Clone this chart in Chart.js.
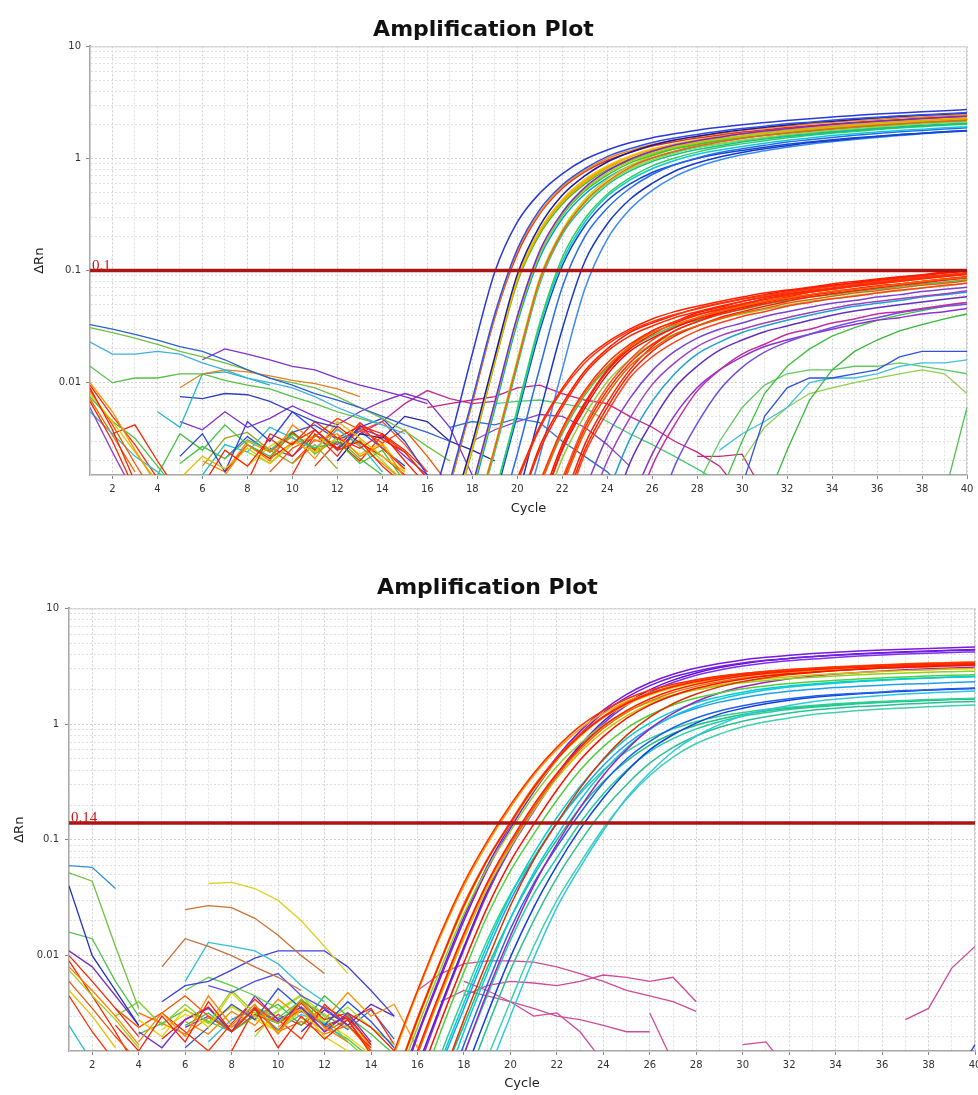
<!DOCTYPE html>
<html><head><meta charset="utf-8">
<script src="https://cdn.jsdelivr.net/npm/chart.js@4.4.1/dist/chart.umd.min.js"></script>
<style>
html,body{margin:0;padding:0;background:#fff;overflow:hidden;width:978px;height:1095px;}
#c1{position:absolute;left:0;top:0;}
#c2{position:absolute;left:0;top:548px;}
</style></head><body>
<canvas id="c1" width="978" height="530"></canvas>
<canvas id="c2" width="990" height="547"></canvas>
<script>
// ---------- shared axis data ----------
const cycles = [1,2,3,4,5,6,7,8,9,10,11,12,13,14,15,16,17,18,19,20,21,22,23,24,25,26,27,28,29,30,31,32,33,34,35,36,37,38,39,40];
const xTickLabels = [2,4,6,8,10,12,14,16,18,20,22,24,26,28,30,32,34,36,38,40];
const yTickLabels = [0.01,0.1,1,10];
const yMin = 0.0015, yMax = 10;
const chartTitle = 'Amplification Plot';
const xTitle = 'Cycle';
const yTitle = 'ΔRn';
const topThreshold = 0.1, topThresholdLabel = '0.1';
const bottomThreshold = 0.14, bottomThresholdLabel = '0.14';

// ---------- TOP chart: early amplifying group ----------
const topEarlyStarts = [16,16,17,17,16,16,17,17,17,18,17,17,18,17,18,18,18,17,18,19,18,19,20];
const topEarlyColors = ['#2a3ad8','#3050e8','#1a1a9a','#7a2ad0','#f08a10','#e8302a','#e8c800','#ff9a00','#a8d018','#f06020','#d8b000','#38c838','#80e040','#50b828','#c8d000','#18c090','#30d060','#00a0e0','#10c8d8','#2a6af0','#1048d0','#1838c8','#3a8af8'];
const topEarlyValues = [
 [0.0006,0.003,0.018,0.097,0.27,0.49,0.73,0.98,1.19,1.38,1.53,1.66,1.79,1.9,2.0,2.09,2.18,2.26,2.35,2.42,2.49,2.55,2.61,2.67,2.73],
 [0.0002,0.0013,0.0071,0.041,0.155,0.35,0.58,0.81,1.04,1.22,1.39,1.52,1.64,1.75,1.85,1.94,2.04,2.11,2.19,2.27,2.33,2.4,2.45,2.51,2.57],
 [0.0006,0.0029,0.017,0.092,0.25,0.47,0.7,0.93,1.13,1.31,1.46,1.58,1.7,1.8,1.9,1.99,2.08,2.15,2.23,2.3,2.37,2.43,2.48,2.54],
 [0.0002,0.0012,0.0067,0.039,0.15,0.33,0.55,0.77,0.98,1.16,1.32,1.44,1.55,1.66,1.76,1.84,1.93,2.01,2.08,2.15,2.21,2.27,2.33,2.38],
 [0.0002,0.0012,0.0068,0.039,0.15,0.33,0.56,0.78,1.0,1.17,1.33,1.46,1.57,1.67,1.78,1.86,1.95,2.03,2.1,2.18,2.23,2.3,2.35,2.41,2.46],
 [0.0002,0.0012,0.0066,0.038,0.14,0.32,0.54,0.76,0.96,1.13,1.29,1.41,1.52,1.62,1.72,1.8,1.89,1.96,2.03,2.11,2.16,2.22,2.28,2.33,2.39],
 [0.0005,0.0027,0.016,0.086,0.23,0.43,0.65,0.86,1.05,1.22,1.35,1.47,1.58,1.67,1.76,1.85,1.93,2.0,2.07,2.13,2.2,2.25,2.3,2.36],
 [0.0005,0.0026,0.016,0.084,0.23,0.42,0.63,0.84,1.03,1.19,1.32,1.43,1.54,1.64,1.72,1.8,1.88,1.95,2.02,2.09,2.15,2.2,2.25,2.31],
 [0.0002,0.0011,0.0064,0.037,0.14,0.32,0.53,0.74,0.94,1.11,1.26,1.38,1.49,1.58,1.68,1.76,1.85,1.92,1.99,2.06,2.11,2.17,2.23,2.28],
 [0.0005,0.0026,0.015,0.082,0.22,0.41,0.62,0.83,1.01,1.16,1.29,1.4,1.51,1.6,1.69,1.76,1.84,1.91,1.98,2.04,2.1,2.15,2.2],
 [0.0005,0.0026,0.015,0.081,0.22,0.41,0.61,0.82,0.99,1.15,1.28,1.39,1.49,1.58,1.67,1.74,1.82,1.89,1.96,2.01,2.07,2.13,2.18,2.23],
 [0.0002,0.0011,0.0062,0.036,0.14,0.31,0.51,0.71,0.91,1.07,1.22,1.33,1.44,1.53,1.62,1.7,1.79,1.85,1.92,1.99,2.04,2.1,2.15,2.2],
 [0.0005,0.0025,0.015,0.079,0.22,0.4,0.6,0.8,0.97,1.12,1.25,1.35,1.45,1.54,1.63,1.7,1.78,1.84,1.91,1.97,2.03,2.08,2.12],
 [0.0005,0.0025,0.015,0.078,0.21,0.39,0.59,0.79,0.96,1.11,1.23,1.34,1.44,1.53,1.61,1.68,1.75,1.82,1.89,1.94,2.0,2.05,2.1,2.15],
 [0.0005,0.0027,0.016,0.086,0.23,0.43,0.65,0.86,1.05,1.22,1.35,1.47,1.58,1.67,1.76,1.85,1.93,2.0,2.07,2.13,2.2,2.25,2.3],
 [0.0005,0.0024,0.014,0.076,0.21,0.38,0.58,0.77,0.94,1.08,1.2,1.3,1.4,1.49,1.57,1.64,1.71,1.78,1.84,1.9,1.95,2.0,2.05],
 [0.00016,0.001,0.0058,0.034,0.13,0.29,0.48,0.67,0.86,1.01,1.14,1.26,1.35,1.44,1.53,1.6,1.68,1.74,1.81,1.87,1.92,1.98,2.02],
 [0.00016,0.001,0.0058,0.034,0.13,0.29,0.48,0.67,0.86,1.01,1.14,1.26,1.35,1.44,1.53,1.6,1.68,1.74,1.81,1.87,1.92,1.98,2.02,2.07],
 [0.00015,0.001,0.0055,0.032,0.12,0.27,0.46,0.64,0.81,0.96,1.09,1.19,1.28,1.37,1.45,1.52,1.6,1.66,1.72,1.78,1.82,1.88,1.92],
 [0.00045,0.0023,0.0135,0.071,0.2,0.36,0.54,0.72,0.88,1.01,1.13,1.22,1.31,1.4,1.47,1.54,1.61,1.67,1.73,1.78,1.83,1.88],
 [0.00014,0.0009,0.0051,0.029,0.11,0.25,0.42,0.59,0.75,0.88,1.0,1.1,1.18,1.26,1.34,1.4,1.47,1.53,1.58,1.64,1.68,1.73,1.77],
 [0.00014,0.0009,0.0053,0.03,0.12,0.26,0.43,0.6,0.77,0.91,1.03,1.13,1.22,1.3,1.38,1.44,1.51,1.57,1.63,1.68,1.73,1.78],
 [0.00043,0.0022,0.013,0.068,0.19,0.35,0.52,0.69,0.84,0.97,1.08,1.17,1.26,1.34,1.41,1.48,1.54,1.6,1.66,1.71,1.76]
];

// ---------- TOP chart: late low-plateau group ----------
const topLateStarts = [20,20,20,20,21,21,21,21,21,22,22,22,22,22,22,21,21,23,23,24,24,25,26,25];
const topLateColors = ['#ff2000','#ff3810','#ff2a00','#ff1800','#ff3000','#ff6000','#ff2000','#f01010','#ff1000','#ff2800','#e86000','#ff2000','#ff4020','#ff5020','#ff2000','#98c838','#40c060','#8040d0','#a040c0','#20a0d0','#6030c0','#c030a0','#7050e0','#9030d0'];
const topLateValues = [
 [0.0014,0.0041,0.0089,0.016,0.023,0.03,0.037,0.043,0.048,0.053,0.058,0.063,0.067,0.071,0.076,0.08,0.084,0.088,0.092,0.097,0.1],
 [0.0013,0.0039,0.0085,0.015,0.022,0.029,0.035,0.0405,0.0455,0.0505,0.0555,0.06,0.064,0.068,0.072,0.076,0.08,0.084,0.088,0.092,0.0955],
 [0.0007,0.0025,0.006,0.012,0.019,0.026,0.032,0.038,0.043,0.048,0.053,0.058,0.062,0.066,0.07,0.074,0.078,0.082,0.086,0.09,0.094],
 [0.0007,0.0027,0.0064,0.0127,0.02,0.028,0.034,0.04,0.046,0.051,0.056,0.061,0.066,0.07,0.074,0.078,0.083,0.087,0.091,0.095,0.1],
 [0.0013,0.0039,0.0085,0.015,0.022,0.029,0.035,0.0405,0.0455,0.0505,0.0555,0.06,0.064,0.068,0.072,0.076,0.08,0.084,0.088,0.092],
 [0.0012,0.0037,0.0081,0.014,0.021,0.028,0.033,0.038,0.043,0.048,0.053,0.057,0.061,0.065,0.068,0.072,0.076,0.08,0.084,0.087],
 [0.0007,0.0026,0.0063,0.0126,0.02,0.027,0.034,0.04,0.045,0.05,0.056,0.061,0.065,0.069,0.074,0.078,0.082,0.086,0.09,0.095],
 [0.0007,0.0025,0.0059,0.0118,0.019,0.025,0.031,0.037,0.042,0.047,0.052,0.057,0.061,0.065,0.069,0.073,0.076,0.08,0.084,0.088],
 [0.0008,0.0028,0.0066,0.013,0.021,0.029,0.035,0.042,0.047,0.053,0.058,0.064,0.068,0.073,0.077,0.081,0.086,0.09,0.095,0.099],
 [0.0013,0.0039,0.0085,0.015,0.022,0.029,0.035,0.0405,0.0455,0.0505,0.0555,0.06,0.064,0.068,0.072,0.076,0.08,0.084,0.088],
 [0.0012,0.0036,0.0078,0.014,0.02,0.027,0.032,0.037,0.042,0.046,0.051,0.055,0.059,0.063,0.066,0.07,0.074,0.077,0.081],
 [0.0007,0.0025,0.006,0.012,0.019,0.026,0.032,0.038,0.043,0.048,0.053,0.058,0.062,0.066,0.07,0.074,0.078,0.082,0.086],
 [0.0006,0.0023,0.0054,0.011,0.017,0.023,0.029,0.034,0.039,0.043,0.048,0.052,0.056,0.059,0.063,0.067,0.07,0.074,0.077],
 [0.0014,0.0042,0.0092,0.016,0.024,0.031,0.038,0.044,0.049,0.055,0.06,0.065,0.069,0.073,0.078,0.082,0.086,0.091,0.095],
 [0.0008,0.0028,0.0066,0.013,0.021,0.029,0.035,0.042,0.047,0.053,0.058,0.064,0.068,0.073,0.077,0.081,0.086,0.09,0.095],
 [0.0006,0.0021,0.0051,0.0102,0.016,0.022,0.027,0.032,0.037,0.041,0.045,0.049,0.053,0.056,0.06,0.063,0.066,0.07,0.073,0.077],
 [0.0012,0.0035,0.0077,0.0135,0.02,0.026,0.032,0.036,0.041,0.045,0.05,0.054,0.058,0.061,0.065,0.068,0.072,0.076,0.079,0.083],
 [0.0011,0.0033,0.0072,0.0128,0.019,0.025,0.03,0.034,0.039,0.043,0.047,0.051,0.054,0.058,0.061,0.065,0.068,0.071],
 [0.0006,0.002,0.0048,0.0096,0.015,0.021,0.026,0.03,0.034,0.038,0.042,0.046,0.05,0.053,0.056,0.059,0.062,0.066],
 [0.001,0.0031,0.0068,0.012,0.018,0.023,0.028,0.032,0.036,0.04,0.044,0.048,0.051,0.054,0.058,0.061,0.064],
 [0.0005,0.0019,0.0045,0.009,0.014,0.0195,0.024,0.0285,0.032,0.036,0.04,0.0435,0.0465,0.0495,0.0525,0.0555,0.0585],
 [0.0005,0.0018,0.0042,0.0084,0.013,0.018,0.022,0.027,0.03,0.034,0.037,0.041,0.043,0.046,0.049,0.052],
 [0.0005,0.0018,0.0043,0.0086,0.0137,0.0187,0.023,0.027,0.031,0.035,0.038,0.042,0.045,0.048,0.05],
 [0.0008,0.0023,0.0051,0.009,0.013,0.017,0.021,0.024,0.027,0.03,0.033,0.036,0.038,0.041,0.043,0.046]
];

// ---------- TOP chart: very late / wandering traces ----------
const topStrayStarts = [29,31,29,29,30,39,28,16,28,19,17,18];
const topStrayColors = ['#40c040','#38b838','#3050e0','#40c0e0','#90d050','#50c050','#60c860','#d02080','#c83070','#50c878','#3070d0','#8a40c8'];
const topStrayValues = [
 [0.001,0.003,0.008,0.014,0.02,0.026,0.031,0.036,0.04,0.044,0.048,0.052],
 [0.0008,0.0025,0.007,0.013,0.019,0.024,0.029,0.033,0.037,0.041],
 [0.0008,0.0012,0.005,0.009,0.011,0.011,0.012,0.013,0.017,0.019,0.019,0.019],
 [0.0025,0.0035,0.0045,0.006,0.01,0.011,0.011,0.012,0.014,0.015,0.015,0.016],
 [0.002,0.004,0.006,0.008,0.009,0.01,0.011,0.012,0.013,0.012,0.008],
 [0.001,0.006],
 [0.0012,0.003,0.006,0.0095,0.012,0.013,0.013,0.014,0.014,0.015,0.014,0.013,0.012],
 [0.006,0.0065,0.007,0.0075,0.009,0.0095,0.008,0.007,0.0065,0.005,0.004,0.003,0.0024,0.0018,0.001],
 [0.0022,0.0022,0.0023,0.001],
 [0.0065,0.0068,0.007,0.0065,0.006,0.0045,0.0035,0.0028,0.0022,0.0017,0.0013],
 [0.004,0.0045,0.0042,0.0048,0.0044,0.003,0.0022,0.0016,0.001],
 [0.003,0.0038,0.0045,0.0052,0.005,0.004,0.0028,0.0018]
];

// ---------- TOP chart: baseline noise ----------
const topBaseStarts = [1,1,1,1,6,5,4,5,1,1,1,1,1,1,1,1,1,1,2, 6,7,8,5,5,4,5,6,9,10,6,12,13,11, 7,6,8,5,9,10,7,8,11,9];
const topBaseColors = ['#3060d0','#70c040','#40b0e0','#58c048','#8030d0','#e08020','#20b8c0','#3040c0','#ff9000','#ff2000','#e8c000','#ff2000','#48c040','#9040c0','#ff5000','#30c0c0','#ff2800','#f07000','#ff2000',
 '#ff2000','#ff8000','#ff2000','#e0c000','#3040e0','#40c040','#8030d0','#20c0d0','#ff5000','#ff2000','#a0a020','#2020a0','#c03090','#ff3000',
 '#ff1800','#ff8a00','#e8d000','#50c040','#ff2400','#ff4a10','#3050e0','#a0e020','#ff2000','#7a30d0'];
const topBaseValues = [
 [0.033,0.03,0.027,0.024,0.021,0.019,0.016,0.013,0.011,0.0095,0.008,0.007,0.006,0.005,0.0042,0.0036,0.003],
 [0.031,0.028,0.025,0.022,0.019,0.017,0.015,0.013,0.011,0.01,0.009,0.0075,0.006,0.0048,0.0037,0.0027,0.002],
 [0.023,0.018,0.018,0.019,0.018,0.015,0.013,0.011,0.01,0.009,0.0075,0.006,0.005,0.0042,0.0035],
 [0.014,0.01,0.011,0.011,0.012,0.012,0.0105,0.0095,0.0088,0.0075,0.0065,0.0055,0.0048,0.0042],
 [0.016,0.02,0.018,0.016,0.014,0.013,0.011,0.0095,0.0085,0.0075,0.0065],
 [0.009,0.012,0.013,0.0125,0.0115,0.0105,0.0098,0.0088,0.0075],
 [0.0055,0.004,0.012,0.0125,0.011,0.0095],
 [0.0075,0.0072,0.008,0.0078,0.0068,0.0055,0.0045,0.004],
 [0.01,0.0055,0.0025,0.0012],
 [0.009,0.0038,0.0013],
 [0.008,0.0045,0.0024,0.0013],
 [0.0068,0.003,0.0011],
 [0.0075,0.0045,0.0032,0.0018,0.001],
 [0.006,0.0024,0.001],
 [0.0085,0.0042,0.0019,0.0009],
 [0.0055,0.0035,0.0022,0.0016,0.0011],
 [0.0095,0.005,0.0028,0.0014],
 [0.0072,0.0034,0.0016],
 [0.0035,0.0042,0.002,0.001],
 [0.0012,0.0025,0.0018,0.0032,0.0022,0.0038,0.0025,0.003,0.0018,0.0012],
 [0.0015,0.0028,0.002,0.0042,0.003,0.0035,0.0022,0.0028,0.0014],
 [0.0013,0.0035,0.0028,0.0045,0.0032,0.0026,0.0035,0.002,0.0012],
 [0.0014,0.0022,0.0017,0.0026,0.0019,0.003,0.0024,0.0045,0.0032,0.0022,0.0016],
 [0.0022,0.0035,0.0016,0.0045,0.003,0.0055,0.0038,0.0025,0.004,0.0048,0.003,0.0015],
 [0.0015,0.0035,0.0025,0.0042,0.0028,0.0022,0.0035,0.0026,0.003,0.0019,0.0025,0.0013],
 [0.0045,0.0038,0.0055,0.004,0.0048,0.0062,0.005,0.0042,0.0055,0.0068,0.008,0.007,0.004,0.0015],
 [0.0015,0.0028,0.0024,0.004,0.0032,0.0026,0.0038,0.0028,0.0016],
 [0.0016,0.0026,0.0033,0.0048,0.0038,0.0029,0.0038,0.0022,0.0012],
 [0.0015,0.0035,0.0022,0.0042,0.0026,0.0017],
 [0.0018,0.0032,0.0036,0.0025,0.0019,0.0028,0.0017],
 [0.002,0.0035,0.0032,0.005,0.0045,0.003,0.0025,0.002],
 [0.0035,0.0045,0.0065,0.0085,0.0072,0.0065,0.0068],
 [0.0018,0.003,0.002,0.0034,0.0024,0.0014],
 [0.0016,0.0028,0.0021,0.0036,0.0025,0.0041,0.0029,0.0022,0.0015],
 [0.002,0.0016,0.003,0.0024,0.0033,0.0021,0.0039,0.0027,0.0019,0.0013],
 [0.0018,0.0027,0.0035,0.0024,0.0032,0.0023,0.0029,0.0016],
 [0.0019,0.0027,0.0021,0.0031,0.0025,0.0037,0.0023,0.0032,0.0021,0.0015],
 [0.0021,0.0029,0.0038,0.0026,0.0044,0.0031,0.0024,0.0014],
 [0.0019,0.0031,0.0026,0.0037,0.0045,0.0028,0.0016],
 [0.0021,0.0033,0.0024,0.0036,0.0042,0.0031,0.0037,0.0026,0.0018],
 [0.0024,0.0019,0.0028,0.0034,0.0026,0.0031,0.002,0.0013],
 [0.0024,0.0032,0.0041,0.0035,0.0025,0.0016],
 [0.0026,0.0022,0.0034,0.0028,0.0039,0.0033,0.0022,0.0015]
];

// ---------- BOTTOM chart: amplifying group ----------
const bottomMainStarts = [14,15,15,15,16,17,14,15,15,15,15,16,15,15,16,16,17,16,17,16,17,17,18,16,16,17,17,18];
const bottomMainColors = ['#ff3000','#ff2000','#ff5000','#ff2000','#ff1000','#e03000','#ffa000','#f07000','#e0d000','#d0c000','#90d020','#50d040','#7020e0','#7a1ae0','#6010d0','#8030f0','#a020c0','#00d0d0','#10c8e0','#20a0f0','#2060f0','#1040e0','#30c8e0','#30d090','#20c080','#20d0a0','#30c090','#40d0b0'];
const bottomMainValues = [
 [0.0004,0.0015,0.005,0.0156,0.0425,0.097,0.2,0.375,0.63,0.96,1.31,1.65,1.96,2.21,2.42,2.6,2.74,2.85,2.95,3.03,3.1,3.17,3.22,3.27,3.32,3.36,3.4],
 [0.0008,0.0028,0.009,0.027,0.067,0.14,0.28,0.5,0.8,1.15,1.5,1.82,2.1,2.33,2.52,2.68,2.8,2.9,2.99,3.07,3.14,3.2,3.25,3.3,3.34,3.38],
 [0.0008,0.0029,0.0092,0.028,0.068,0.143,0.29,0.51,0.82,1.17,1.53,1.86,2.14,2.38,2.57,2.73,2.86,2.96,3.05,3.13,3.2,3.26,3.32,3.37,3.41,3.45],
 [0.0004,0.0015,0.005,0.0156,0.0425,0.097,0.2,0.375,0.63,0.96,1.31,1.65,1.96,2.21,2.42,2.6,2.74,2.85,2.95,3.03,3.1,3.17,3.22,3.27,3.32,3.36],
 [0.0008,0.0027,0.0087,0.026,0.065,0.136,0.27,0.49,0.78,1.12,1.46,1.77,2.04,2.26,2.44,2.6,2.72,2.81,2.9,2.98,3.05,3.1,3.15,3.2,3.24],
 [0.0008,0.0028,0.009,0.027,0.067,0.14,0.28,0.5,0.8,1.15,1.5,1.82,2.1,2.33,2.52,2.68,2.8,2.9,2.99,3.07,3.14,3.2,3.25,3.3],
 [0.0004,0.0014,0.0048,0.0148,0.04,0.092,0.19,0.36,0.6,0.91,1.24,1.57,1.86,2.1,2.3,2.47,2.6,2.71,2.8,2.88,2.95,3.01,3.06,3.11,3.15,3.19,3.23],
 [0.0004,0.0014,0.0048,0.015,0.041,0.093,0.19,0.36,0.6,0.92,1.26,1.58,1.88,2.12,2.32,2.5,2.63,2.74,2.83,2.91,2.98,3.04,3.09,3.14,3.19,3.23],
 [0.0008,0.0027,0.0088,0.026,0.066,0.137,0.27,0.49,0.78,1.13,1.47,1.78,2.06,2.28,2.47,2.63,2.74,2.84,2.93,3.01,3.08,3.14,3.19,3.23,3.27,3.31],
 [0.0004,0.0014,0.0045,0.014,0.038,0.087,0.18,0.34,0.57,0.86,1.18,1.49,1.76,1.99,2.18,2.34,2.47,2.57,2.66,2.73,2.79,2.85,2.9,2.94,2.99,3.02],
 [0.0007,0.0024,0.0077,0.023,0.057,0.119,0.24,0.43,0.68,0.98,1.28,1.55,1.79,1.98,2.14,2.28,2.38,2.47,2.54,2.61,2.67,2.72,2.76,2.81,2.84,2.87],
 [0.0006,0.0022,0.0072,0.022,0.054,0.112,0.22,0.4,0.64,0.92,1.2,1.46,1.68,1.86,2.02,2.14,2.24,2.32,2.39,2.46,2.51,2.56,2.6,2.64,2.67],
 [0.0005,0.002,0.0065,0.02,0.055,0.126,0.26,0.49,0.82,1.25,1.7,2.15,2.55,2.87,3.15,3.38,3.56,3.7,3.84,3.94,4.03,4.12,4.19,4.25,4.32,4.37],
 [0.0006,0.0021,0.0069,0.0215,0.059,0.134,0.28,0.52,0.87,1.32,1.81,2.28,2.7,3.05,3.34,3.59,3.78,3.93,4.07,4.18,4.28,4.37,4.44,4.51,4.58,4.64],
 [0.0011,0.0037,0.0119,0.036,0.088,0.185,0.37,0.66,1.06,1.52,1.98,2.4,2.77,3.08,3.33,3.54,3.7,3.83,3.95,4.05,4.14,4.22,4.29,4.36,4.41],
 [0.001,0.0035,0.0113,0.034,0.084,0.176,0.35,0.63,1.01,1.45,1.89,2.29,2.65,2.94,3.18,3.38,3.53,3.65,3.77,3.87,3.96,4.03,4.1,4.16,4.21],
 [0.0004,0.0014,0.0048,0.0148,0.04,0.092,0.19,0.36,0.6,0.91,1.24,1.57,1.86,2.1,2.3,2.47,2.6,2.71,2.8,2.88,2.95,3.01,3.06,3.11],
 [0.0003,0.0012,0.0039,0.0122,0.033,0.076,0.156,0.29,0.49,0.75,1.02,1.29,1.53,1.72,1.89,2.03,2.14,2.22,2.3,2.36,2.42,2.47,2.51,2.55,2.59],
 [0.0006,0.0022,0.007,0.021,0.052,0.109,0.22,0.39,0.62,0.9,1.17,1.42,1.64,1.82,1.97,2.09,2.18,2.26,2.33,2.39,2.45,2.5,2.54,2.57],
 [0.0003,0.0011,0.0035,0.0109,0.03,0.068,0.14,0.26,0.44,0.67,0.92,1.16,1.37,1.55,1.69,1.82,1.92,2.0,2.07,2.12,2.17,2.22,2.25,2.29,2.32],
 [0.0005,0.0017,0.0056,0.017,0.042,0.087,0.17,0.31,0.5,0.71,0.93,1.13,1.3,1.44,1.56,1.66,1.74,1.8,1.85,1.9,1.95,1.98,2.02,2.05],
 [0.0002,0.0009,0.0031,0.0097,0.026,0.06,0.124,0.23,0.39,0.6,0.81,1.02,1.22,1.37,1.5,1.61,1.7,1.77,1.83,1.88,1.92,1.97,2.0,2.03],
 [0.0002,0.0009,0.003,0.0094,0.026,0.058,0.12,0.23,0.38,0.58,0.79,0.99,1.18,1.33,1.45,1.56,1.64,1.71,1.77,1.82,1.86,1.9,1.93],
 [0.0004,0.0014,0.0045,0.0135,0.034,0.07,0.14,0.25,0.4,0.58,0.75,0.91,1.05,1.17,1.26,1.34,1.4,1.45,1.5,1.54,1.57,1.6,1.63,1.65,1.67],
 [0.0002,0.0008,0.0025,0.0078,0.021,0.049,0.1,0.19,0.32,0.48,0.66,0.83,0.98,1.1,1.21,1.3,1.37,1.43,1.48,1.52,1.55,1.59,1.61,1.64,1.66],
 [0.0004,0.0014,0.0045,0.0135,0.034,0.07,0.14,0.25,0.4,0.58,0.75,0.91,1.05,1.17,1.26,1.34,1.4,1.45,1.5,1.54,1.57,1.6,1.63,1.65],
 [0.0002,0.0007,0.0024,0.0075,0.02,0.047,0.096,0.18,0.3,0.46,0.63,0.79,0.94,1.06,1.16,1.25,1.32,1.37,1.42,1.45,1.49,1.52,1.55,1.57],
 [0.0004,0.0013,0.004,0.012,0.03,0.063,0.126,0.225,0.36,0.52,0.68,0.82,0.95,1.05,1.13,1.21,1.26,1.31,1.35,1.38,1.41,1.44,1.46]
];

// ---------- BOTTOM chart: stray traces ----------
const bottomStrayStarts = [16,18,17,18,26,30,37,39];
const bottomStrayColors = ['#d04a9a','#d04a9a','#c8509a','#d04a9a','#d04a9a','#d04a9a','#d04a9a','#3040d0'];
const bottomStrayValues = [
 [0.005,0.007,0.0085,0.009,0.009,0.0088,0.008,0.007,0.006,0.005,0.0045,0.004,0.0033],
 [0.0045,0.0055,0.006,0.0058,0.0055,0.006,0.0068,0.0065,0.006,0.0065,0.004],
 [0.004,0.005,0.0045,0.004,0.0035,0.003,0.0028,0.0025,0.0022,0.0022],
 [0.006,0.005,0.004,0.003,0.0032,0.0022,0.0012],
 [0.0032,0.0012],
 [0.0017,0.0018,0.001],
 [0.0028,0.0035,0.0078,0.012],
 [0.0008,0.0017]
];

// ---------- BOTTOM chart: baseline noise ----------
const bottomBaseStarts = [1,1,1,1,1,1,1,1,1,1,1,1,1,7,6,5,6,5,6,7, 3,4,4,3,4,5,6,3,6,8,7,9,10,11, 5,6,5,4,7,9,6,4,8];
const bottomBaseColors = ['#3090d0','#70c040','#2030c0','#50c050','#8030c0','#ff8000','#ff2000','#ff5000','#e8c000','#ff3000','#a0d020','#ff2000','#20c0c0','#e0d020','#d07030','#c87040','#30c0d0','#4040e0','#60d040','#5050f0',
 '#ff2000','#ff8000','#e0d000','#80d030','#7030d0','#ff3000','#3050e0','#ff5000','#40c040','#ff2000','#20c0e0','#a0e020','#ff9000','#6020c0',
 '#ff1800','#ff8a00','#e8d800','#48c848','#b0e020','#ff2a00','#7a30e0','#ff7000','#3060e8'];
const bottomBaseValues = [
 [0.06,0.058,0.038],
 [0.052,0.044,0.012,0.0035],
 [0.04,0.01,0.005,0.0025],
 [0.016,0.014,0.006,0.003],
 [0.011,0.008,0.0045,0.0025],
 [0.008,0.005,0.003,0.0017],
 [0.01,0.006,0.0035,0.002],
 [0.006,0.0035,0.002,0.0012],
 [0.005,0.003,0.0016],
 [0.0045,0.0022,0.0012],
 [0.0075,0.0045,0.0028,0.0016],
 [0.009,0.0045,0.0022,0.001],
 [0.0025,0.0012],
 [0.042,0.043,0.038,0.03,0.02,0.012,0.007],
 [0.025,0.027,0.026,0.021,0.015,0.01,0.007],
 [0.008,0.014,0.012,0.01,0.008,0.0065,0.005],
 [0.006,0.013,0.012,0.011,0.0085,0.0055,0.004],
 [0.004,0.0055,0.006,0.0075,0.0095,0.011,0.011,0.011,0.008,0.005,0.003],
 [0.005,0.0065,0.0055,0.0045,0.0035],
 [0.0055,0.0048,0.006,0.007,0.0045,0.0035,0.0025],
 [0.0025,0.0015,0.003,0.0018,0.004,0.0022,0.0035,0.0016,0.003,0.0019,0.0028,0.0014],
 [0.0018,0.0032,0.002,0.0045,0.0025,0.0038,0.0021,0.004,0.0024,0.0018],
 [0.0028,0.002,0.0035,0.0024,0.0048,0.003,0.0022,0.0034,0.002,0.0015],
 [0.003,0.004,0.0025,0.0038,0.0026,0.005,0.0032,0.0026,0.0042,0.003,0.0018,0.0012],
 [0.0022,0.0016,0.0028,0.0035,0.0022,0.0045,0.0028,0.0036,0.0022,0.0032,0.0018],
 [0.0032,0.0022,0.0015,0.0026,0.0042,0.0028,0.0019,0.0038,0.0025,0.0016],
 [0.0016,0.0024,0.0038,0.0028,0.0052,0.0035,0.0025,0.004,0.0027,0.0016],
 [0.0035,0.0024,0.0032,0.0045,0.003,0.0022,0.0036,0.0026,0.0034,0.0022,0.0028,0.0015],
 [0.0025,0.0032,0.0022,0.003,0.0038,0.0025,0.0045,0.003,0.0021,0.0014],
 [0.0015,0.0035,0.0022,0.0042,0.0028,0.0032,0.0024,0.0015],
 [0.0018,0.0028,0.0034,0.0023,0.0031,0.0026,0.0018],
 [0.002,0.0034,0.0046,0.0026,0.0036,0.0024,0.0017],
 [0.0024,0.0036,0.0028,0.0048,0.003,0.0038,0.0016],
 [0.0022,0.0034,0.0025,0.0038,0.003],
 [0.0019,0.0028,0.0036,0.0022,0.0031,0.0026,0.0039,0.0024,0.003,0.0017],
 [0.0027,0.0021,0.0033,0.0025,0.0042,0.0029,0.0023,0.0031,0.0016],
 [0.0023,0.0031,0.0026,0.0037,0.0028,0.0022,0.0035,0.0027,0.002,0.0014],
 [0.0021,0.0026,0.0034,0.0027,0.0022,0.0036,0.0029,0.0041,0.0025,0.0019,0.0013],
 [0.0026,0.0036,0.0028,0.0033,0.0045,0.0031,0.0024,0.0018],
 [0.0022,0.0031,0.0025,0.0036,0.0028,0.0035,0.0017],
 [0.0024,0.003,0.0022,0.0036,0.0027,0.0033,0.0025,0.0029,0.0017],
 [0.0032,0.0026,0.0021,0.0029,0.0024,0.0034,0.0022,0.0027,0.0021,0.0025,0.0015],
 [0.0028,0.0035,0.0026,0.0041,0.0031,0.0023,0.0034,0.0019]
];

// ---------- helpers ----------
Chart.defaults.font.family = '"DejaVu Sans", sans-serif';

function buildSets(starts, values, colors, smooth) {
  return values.map((vals, i) => ({
    data: vals.map((v, j) => ({x: starts[i] + j, y: v})),
    borderColor: colors[i],
    borderWidth: smooth ? 1.5 : 1.3,
    pointRadius: 0,
    fill: false,
    cubicInterpolationMode: smooth ? 'monotone' : 'default',
    tension: 0
  }));
}
function thresholdSet(v) {
  return {data: [{x: cycles[0], y: v}, {x: cycles[cycles.length - 1], y: v}],
    borderColor: '#ad1515', borderWidth: 3.5, pointRadius: 0, fill: false};
}
const yGridValues = [];
[0.001, 0.01, 0.1, 1].forEach(d => {
  for (let m = 1; m <= 9; m++) {
    const v = m === 1 ? d : +(d * m).toPrecision(2);
    if (v >= yMin && v <= yMax) yGridValues.push(v);
  }
});
yGridValues.push(yMax);

const frameAndLabel = {
  id: 'frameAndLabel',
  beforeDatasetsDraw(chart) {
    const {ctx, chartArea: a} = chart;
    ctx.save();
    ctx.strokeStyle = '#cfcfcf';
    ctx.lineWidth = 1;
    ctx.strokeRect(a.left + 0.5, a.top + 0.5, a.right - a.left - 1, a.bottom - a.top);
    ctx.restore();
  },
  afterDatasetsDraw(chart, args, opts) {
    const {ctx, chartArea: a, scales} = chart;
    const py = scales.y.getPixelForValue(opts.value);
    ctx.save();
    ctx.font = '15px "Liberation Serif", serif';
    ctx.fillStyle = '#d01414';
    ctx.textBaseline = 'alphabetic';
    ctx.fillText(opts.text, a.left + 2, py - 1);
    ctx.restore();
  }
};

function makeOptions(cfg) {
  const gridColor = (c) => (c.tick && c.tick.label) ? '#cfcfcf' : '#e0e0e0';
  const tickColor = (c) => (c.tick && c.tick.label) ? '#8a8a8a' : 'rgba(0,0,0,0)';
  return {
    responsive: false, animation: false, events: [],
    layout: {padding: {left: 0, right: cfg.padRight, top: 0, bottom: cfg.padBottom}},
    plugins: {
      legend: {display: false}, tooltip: {enabled: false},
      title: {display: true, text: chartTitle, color: '#111',
        font: {family: '"DejaVu Sans", sans-serif', size: 22, weight: 'bold'},
        padding: {top: cfg.titleTop, bottom: cfg.titleBottom}},
      frameAndLabel: {value: cfg.threshold, text: cfg.thresholdText}
    },
    scales: {
      x: {
        type: 'linear', min: cycles[0], max: cycles[cycles.length - 1],
        afterBuildTicks: s => { s.ticks = cycles.map(v => ({value: v})); },
        afterFit: s => { s.height = cfg.xHeight; },
        ticks: {autoSkip: false, maxRotation: 0, color: '#333', padding: 4,
          font: {size: 10},
          callback: v => xTickLabels.includes(v) ? String(v) : ''},
        grid: {color: gridColor, tickLength: 4, tickColor: tickColor, lineWidth: 1},
        border: {display: true, color: '#a8a8a8', width: 2, dash: [2, 2]},
        title: {display: true, text: xTitle, color: '#222', font: {size: 13},
          padding: {top: 0, bottom: cfg.cycleBottom}}
      },
      y: {
        type: 'logarithmic', min: yMin, max: yMax,
        afterBuildTicks: s => { s.ticks = yGridValues.map(v => ({value: v})); },
        afterFit: s => { s.width = cfg.yWidth; },
        ticks: {autoSkip: false, color: '#333', padding: cfg.yTickPad,
          font: {size: 10},
          callback: v => yTickLabels.includes(v) ? String(v) : ''},
        grid: {color: gridColor, tickLength: 4, tickColor: tickColor, lineWidth: 1},
        border: {display: true, color: '#a8a8a8', width: 2, dash: [2, 2]},
        title: {display: true, text: yTitle, color: '#222', font: {size: 13},
          padding: {top: cfg.yTitlePad, bottom: 0}}
      }
    }
  };
}

// ---------- top chart ----------
new Chart(document.getElementById('c1'), {
  type: 'line',
  data: {datasets: [thresholdSet(topThreshold)]
    .concat(buildSets(topLateStarts, topLateValues, topLateColors, true))
    .concat(buildSets(topEarlyStarts, topEarlyValues, topEarlyColors, true))
    .concat(buildSets(topStrayStarts, topStrayValues, topStrayColors, false))
    .concat(buildSets(topBaseStarts, topBaseValues, topBaseColors, false))},
  options: makeOptions({padRight: 11, padBottom: 10, xHeight: 45, titleTop: 17, titleBottom: 3,
    yWidth: 90, yTitlePad: 32, yTickPad: 5, cycleBottom: 4,
    threshold: topThreshold, thresholdText: topThresholdLabel}),
  plugins: [frameAndLabel]
});

// ---------- bottom chart ----------
new Chart(document.getElementById('c2'), {
  type: 'line',
  data: {datasets: [thresholdSet(bottomThreshold)]
    .concat(buildSets(bottomMainStarts, bottomMainValues, bottomMainColors, true))
    .concat(buildSets(bottomStrayStarts, bottomStrayValues, bottomStrayColors, false))
    .concat(buildSets(bottomBaseStarts, bottomBaseValues, bottomBaseColors, false))},
  options: makeOptions({padRight: 15, padBottom: 4, xHeight: 40, titleTop: 27, titleBottom: 7,
    yWidth: 69, yTitlePad: 12, yTickPad: 6, cycleBottom: 0,
    threshold: bottomThreshold, thresholdText: bottomThresholdLabel}),
  plugins: [frameAndLabel]
});
</script>
</body></html>
